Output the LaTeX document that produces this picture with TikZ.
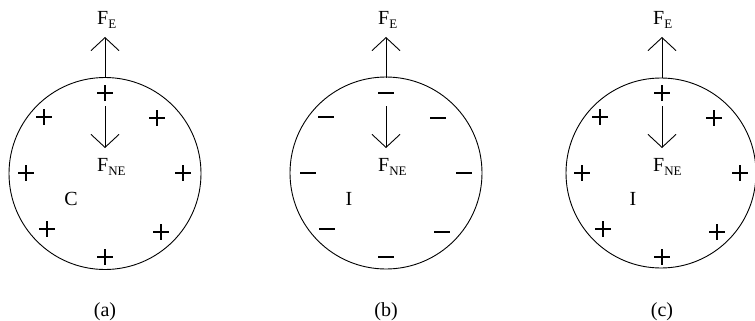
\documentclass[tikz,border=0pt]{standalone}
\usepackage{fontspec}
\setmainfont{Liberation Serif}
\usetikzlibrary{arrows.meta}
\begin{document}
\begin{tikzpicture}[x=1pt,y=-1pt,
  ball/.style={draw,line width=0.9pt},
  force/.style={line width=0.9pt,-{Straight Barb[length=13pt,width=28pt,line width=0.9pt]}},
  lab/.style={inner sep=0pt,font=\fontsize{20}{24}\selectfont},
  chg/.style={inner sep=0pt,minimum size=18pt},
  pluss/.style={chg,path picture={\draw[line width=2.7pt] (path picture bounding box.center) ++(-7.8pt,0) -- ++(15.6pt,0) (path picture bounding box.center) ++(0,-7.8pt) -- ++(0,15.6pt);}},
  minuss/.style={chg,path picture={\draw[line width=2.7pt] (path picture bounding box.center) ++(-7.8pt,0) -- ++(15.6pt,0);}}
]
\useasboundingbox (0,0) rectangle (755,321);
\newcommand{\FE}{F\raisebox{-4pt}{\fontsize{13}{14}\selectfont E}}
\newcommand{\FNE}{F\raisebox{-4pt}{\fontsize{13}{14}\selectfont NE}}
% (a)
\draw[ball] (105,173.5) circle[radius=96];
\coordinate (at) at (105,78);
\coordinate (atip) at (105,37);
\coordinate (as) at (105,106);
\coordinate (ae) at (105,148);
\draw[force] (at) -- (atip);
\draw[force] (as) -- (ae);
\node[lab,anchor=base west] (afe) at (97,24.5) {\FE};
\node[lab,anchor=base west] (afne) at (97,171.5) {\FNE};
\node[pluss] (a1) at (105,93) {};
\node[pluss] (a2) at (44,117) {};
\node[pluss] (a3) at (157,118) {};
\node[pluss] (a4) at (26,173) {};
\node[pluss] (a5) at (183,173) {};
\node[pluss] (a6) at (47,229) {};
\node[pluss] (a7) at (161,232) {};
\node[pluss] (a8) at (105,257) {};
\node[lab] (ac) at (71,199) {C};
\node[lab] (acap) at (105,312) {(a)};
% (b)
\draw[ball] (386,173) circle[radius=96];
\coordinate (bt) at (386,78);
\coordinate (btip) at (386,37);
\coordinate (bs) at (386,106);
\coordinate (be) at (386,148);
\draw[force] (bt) -- (btip);
\draw[force] (bs) -- (be);
\node[lab,anchor=base west] (bfe) at (378,24.5) {\FE};
\node[lab,anchor=base west] (bfne) at (378,171.5) {\FNE};
\node[minuss] (b1) at (386,93) {};
\node[minuss] (b2) at (326,117) {};
\node[minuss] (b3) at (438,118) {};
\node[minuss] (b4) at (308,173) {};
\node[minuss] (b5) at (464,173) {};
\node[minuss] (b6) at (327,229) {};
\node[minuss] (b7) at (442,232) {};
\node[minuss] (b8) at (386,257) {};
\node[lab] (bi) at (349,199) {I};
\node[lab] (bcap) at (386,312) {(b)};
% (c)
\draw[ball] (661,173) circle[radius=95];
\coordinate (ct) at (662,78);
\coordinate (ctip) at (662,37);
\coordinate (cs) at (662,106);
\coordinate (ce) at (662,148);
\draw[force] (ct) -- (ctip);
\draw[force] (cs) -- (ce);
\node[lab,anchor=base west] (cfe) at (653,24.5) {\FE};
\node[lab,anchor=base west] (cfne) at (653,171.5) {\FNE};
\node[pluss] (c1) at (662,93) {};
\node[pluss] (c2) at (600,117) {};
\node[pluss] (c3) at (714,118) {};
\node[pluss] (c4) at (582,173) {};
\node[pluss] (c5) at (740,173) {};
\node[pluss] (c6) at (603,229) {};
\node[pluss] (c7) at (717,232) {};
\node[pluss] (c8) at (662,257) {};
\node[lab] (ci) at (633,199) {I};
\node[lab] (ccap) at (662,312) {(c)};
\end{tikzpicture}
\end{document}
